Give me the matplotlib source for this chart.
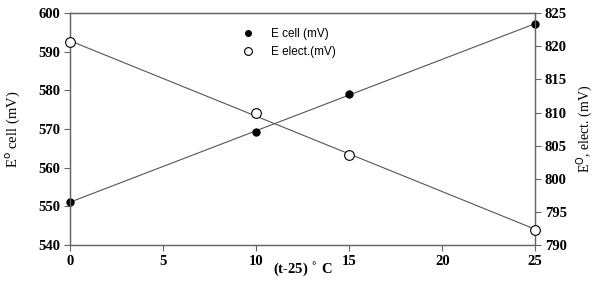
import numpy as np
import matplotlib
matplotlib.use("Agg")
from matplotlib import pyplot as plt

# data
t = [0, 10, 15, 25]
e_cell = [551.2, 569.2, 579.2, 597.2]
e_elect = [820.6, 809.9, 803.6, 792.3]

fig = plt.figure(figsize=(6, 2.85), dpi=100)
ax = fig.add_axes([0.117, 0.140, 0.775, 0.814])
ax2 = ax.twinx()

tick_font = dict(family="Liberation Serif", weight="bold", size=10.5)

# fitted straight lines through each series
xs = np.array([min(t), max(t)])
p1 = np.polyfit(t, e_cell, 1)
p2 = np.polyfit(t, e_elect, 1)
ax.plot(xs, np.polyval(p1, xs), color="#555555", lw=0.8, zorder=1)
ax2.plot(xs, np.polyval(p2, xs), color="#555555", lw=0.8, zorder=1)

ax.plot(t, e_cell, "o", color="black", ms=5, zorder=3, clip_on=False, label="E cell (mV)")
ax2.plot(t, e_elect, "o", mfc="white", mec="black", mew=0.8, ms=7, zorder=3,
         clip_on=False, label="E elect.(mV)")

ax.set_xlim(0, 25)
ax.set_ylim(540, 600)
ax2.set_ylim(790, 825)
ax.set_xticks([0, 5, 10, 15, 20, 25])
ax.set_yticks(range(540, 601, 10))
ax2.set_yticks(range(790, 826, 5))

for a in (ax, ax2):
    for s in a.spines.values():
        s.set_color("#666666")
        s.set_linewidth(0.9)
    a.tick_params(direction="out", length=4, width=0.8, color="#666666", pad=3)
    for lab in a.get_xticklabels() + a.get_yticklabels():
        lab.set_fontproperties(matplotlib.font_manager.FontProperties(**tick_font))
ax.spines["top"].set_color("#333333")

ax.set_xlabel("(t-25) $^{\\circ}$ C", family="Liberation Serif", weight="bold", size=10.5, labelpad=-5)
ax.set_ylabel("E$^{\\mathrm{o}}$ cell (mV)", family="Liberation Serif", size=10.5, labelpad=12)
ax2.set_ylabel("E$^{\\mathrm{O}}$, elect. (mV)", family="Liberation Serif", size=10, labelpad=5)

h1, l1 = ax.get_legend_handles_labels()
h2, l2 = ax2.get_legend_handles_labels()
leg = ax2.legend(h1 + h2, l1 + l2, loc="upper left", bbox_to_anchor=(0.34, 0.98),
                 frameon=False, prop={"family": "Liberation Sans", "size": 8.5},
                 handlelength=1.5, labelspacing=0.5, handletextpad=1.2, markerscale=0.8)

fig.savefig("out.png", dpi=100)
